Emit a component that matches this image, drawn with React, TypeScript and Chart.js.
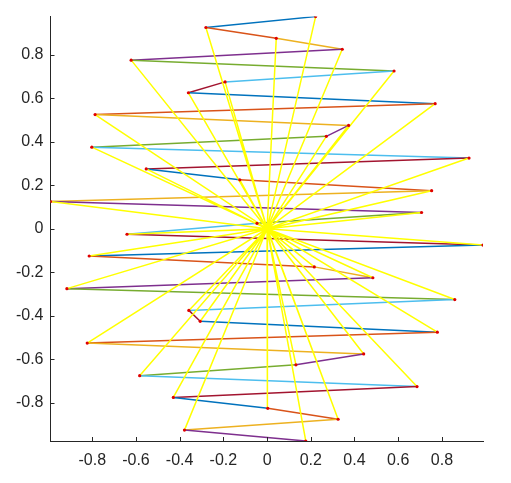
import React, { useEffect, useRef } from "react";
import { Chart, registerables } from "chart.js";

Chart.register(...registerables);

const xValues = [
  0.222, -0.28, 0.042, 0.344, -0.622, 0.581, -0.192, -0.36, 0.769, -0.787,
  0.373, 0.271, -0.802, 0.924, -0.553, -0.125, 0.753, -0.991, 0.707, -0.046,
  -0.641, 0.988, -0.814, 0.216, 0.484, -0.916, 0.859, -0.358, -0.306, 0.779,
  -0.823, 0.442, 0.132, -0.583, 0.686, -0.429, 0.003, 0.325, -0.378, 0.177,
];
const yValues = [
  0.975, 0.925, 0.875, 0.825, 0.775, 0.725, 0.675, 0.625, 0.575, 0.525,
  0.475, 0.425, 0.375, 0.325, 0.275, 0.225, 0.175, 0.125, 0.075, 0.025,
  -0.025, -0.075, -0.125, -0.175, -0.225, -0.275, -0.325, -0.375, -0.425, -0.475,
  -0.525, -0.575, -0.625, -0.675, -0.725, -0.775, -0.825, -0.875, -0.925, -0.975,
];
const xTicks = [-0.8, -0.6, -0.4, -0.2, 0, 0.2, 0.4, 0.6, 0.8];
const yTicks = [-0.8, -0.6, -0.4, -0.2, 0, 0.2, 0.4, 0.6, 0.8];
const xLimits = [-0.991, 0.988];
const yLimits = [-0.975, 0.975];

const segmentColors = ["#0072BD", "#D95319", "#EDB120", "#7E2F8E", "#77AC30", "#4DBEEE", "#A2142F"];
const axisColor = "#262626";

const tickMarks = {
  id: "tickMarks",
  afterDraw(chart: any) {
    const { ctx, chartArea, scales } = chart;
    ctx.save();
    ctx.strokeStyle = axisColor;
    ctx.lineWidth = 1;
    ctx.beginPath();
    xTicks.forEach((v) => {
      const px = Math.round(scales.x.getPixelForValue(v)) + 0.5;
      ctx.moveTo(px, chartArea.bottom);
      ctx.lineTo(px, chartArea.bottom - 4);
    });
    yTicks.forEach((v) => {
      const py = Math.round(scales.y.getPixelForValue(v)) + 0.5;
      ctx.moveTo(chartArea.left, py);
      ctx.lineTo(chartArea.left + 4, py);
    });
    ctx.stroke();
    ctx.restore();
  },
};

export default function App() {
  const ref = useRef<HTMLCanvasElement | null>(null);
  useEffect(() => {
    if (!ref.current) return;
    const pts = xValues.map((x, i) => ({ x, y: yValues[i] }));
    const rays: { x: number; y: number }[] = [];
    pts.forEach((p) => {
      rays.push({ x: 0, y: 0 });
      rays.push(p);
    });
    const font = { family: "'Liberation Sans', Arial, Helvetica, sans-serif", size: 16 };
    const chart = new Chart(ref.current, {
      type: "scatter",
      data: {
        datasets: [
          {
            data: pts,
            showLine: false,
            pointRadius: 1.6,
            pointBackgroundColor: "#E00000",
            pointBorderWidth: 0,
            order: 0,
          } as any,
          {
            data: rays,
            showLine: true,
            borderColor: "#FFFF00",
            borderWidth: 1.5,
            pointRadius: 0,
            order: 1,
          } as any,
          {
            data: pts,
            showLine: true,
            borderWidth: 1.5,
            pointRadius: 0,
            borderColor: segmentColors[0],
            segment: {
              borderColor: (c: any) => segmentColors[c.p0DataIndex % segmentColors.length],
            },
            order: 2,
          } as any,
        ],
      },
      options: {
        animation: false,
        responsive: false,
        layout: { padding: { left: 0, top: 14, right: 28, bottom: 0 } },
        plugins: { legend: { display: false }, tooltip: { enabled: false } },
        scales: {
          x: {
            type: "linear",
            min: xLimits[0],
            max: xLimits[1],
            afterBuildTicks: (s: any) => {
              s.ticks = xTicks.map((v) => ({ value: v }));
            },
            afterFit: (s: any) => {
              s.height = 42;
            },
            grid: { display: false, drawTicks: false },
            border: { display: true, color: axisColor, width: 1 },
            ticks: {
              color: axisColor,
              font,
              padding: 10,
              maxRotation: 0,
              autoSkip: false,
              callback: (v: any) => String(Number(v)),
            },
          },
          y: {
            type: "linear",
            min: yLimits[0],
            max: yLimits[1],
            afterBuildTicks: (s: any) => {
              s.ticks = yTicks.map((v) => ({ value: v }));
            },
            afterFit: (s: any) => {
              s.width = 50.5;
            },
            grid: { display: false, drawTicks: false },
            border: { display: true, color: axisColor, width: 1 },
            ticks: {
              color: axisColor,
              font,
              padding: 7,
              autoSkip: false,
              callback: (v: any) => String(Number(v)),
            },
          },
        },
      },
      plugins: [tickMarks],
    });
    return () => chart.destroy();
  }, []);
  return (
    <div style={{ position: "fixed", left: 0, top: 0, width: 511, height: 483, background: "#fff" }}>
      <canvas ref={ref} width={511} height={483} style={{ width: 511, height: 483 }} />
    </div>
  );
}
